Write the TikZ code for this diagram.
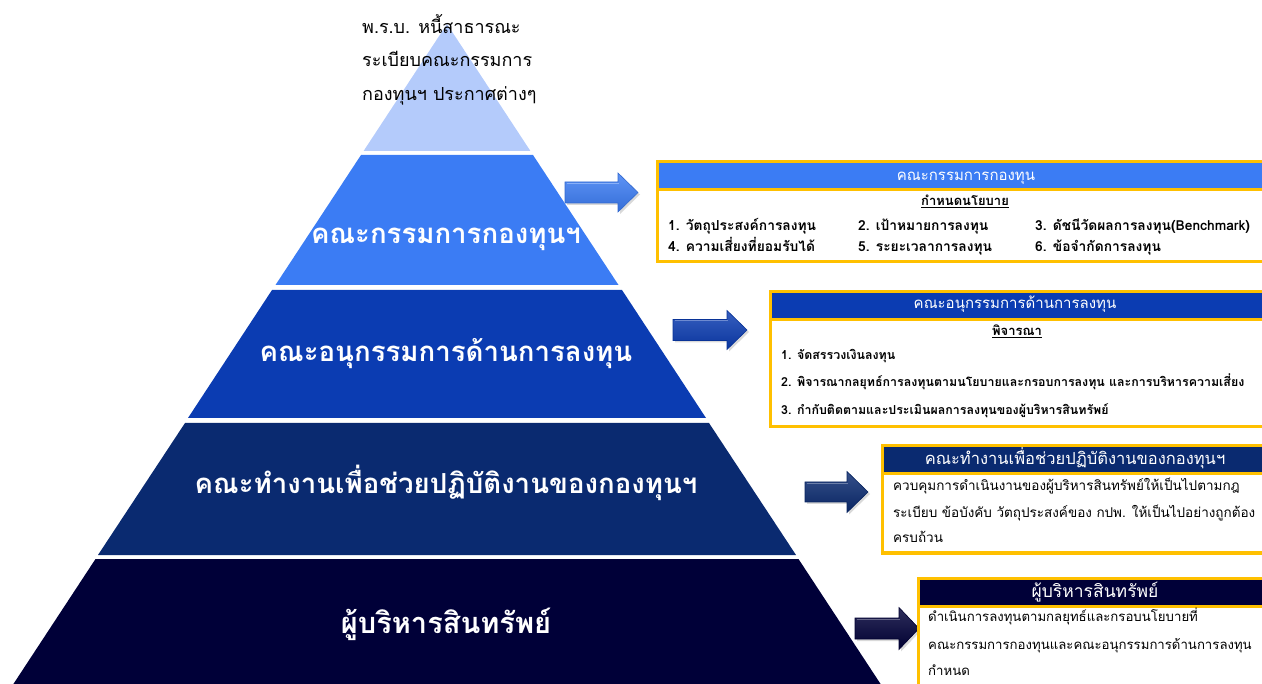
\documentclass[tikz,border=0pt]{standalone}
\usepackage{fontspec}
\setmainfont{Loma}[Script=Thai]
\definecolor{bandA}{HTML}{B4CBFB}
\definecolor{bandB}{HTML}{3B7CF4}
\definecolor{bandC}{HTML}{0B3CB2}
\definecolor{bandD}{HTML}{0A2A70}
\definecolor{bandE}{HTML}{000038}
\definecolor{gold}{HTML}{FFC000}
\tikzset{
  bandtext/.style={text=white, font=\fontsize{27.6}{33}\selectfont\bfseries, anchor=base, inner sep=0pt},
  toptext/.style={text=black, font=\fontsize{18}{22}\selectfont, anchor=base west, inner sep=0pt},
  hdrtext/.style={text=white, font=\fontsize{15}{18}\selectfont, anchor=base, inner sep=0pt},
  subtext/.style={text=black, font=\fontsize{13}{16}\selectfont\bfseries, anchor=base, inner sep=0pt},
  itemtext/.style={text=black, font=\fontsize{13.8}{16}\selectfont\bfseries, anchor=base west, inner sep=0pt},
  bodytext/.style={text=black, font=\fontsize{13.5}{16}\selectfont, anchor=base west, inner sep=0pt},
  boxframe/.style={draw=gold, line width=3pt},
}
\newcommand\blockarr[8]{%
  \coordinate (#1) at (#2,-#5);
  \fill[black, opacity=0.15] (#2+2,-#5-#6-2) -- (#3+2,-#5-#6-2) -- (#3+2,-#5-#7-2) -- (#4+2,-#5-2) -- (#3+2,-#5+#7-2) -- (#3+2,-#5+#6-2) -- (#2+2,-#5+#6-2) -- cycle;
  \shade[top color=#8!82!white, middle color=#8, bottom color=#8!88!black, draw=#8!85!black, line width=0.6pt]
    (#2,-#5-#6) -- (#3,-#5-#6) -- (#3,-#5-#7) -- (#4,-#5) -- (#3,-#5+#7) -- (#3,-#5+#6) -- (#2,-#5+#6) -- cycle;
  \draw[#8!60!white, line width=1pt] (#2+1.5,-#5+#6-1.5) -- (#3+1,-#5+#6-1.5);
}
\begin{document}
\begin{tikzpicture}[x=1pt,y=1pt]
\useasboundingbox (0,0) rectangle (1262,-684);
\clip (0,0) rectangle (1262,-684);
% pyramid
\fill[bandA] (447,-24) -- (530.4,-151) -- (363.6,-151) -- cycle;
\fill[bandB] (361,-155) -- (533,-155) -- (618.5,-285) -- (275.5,-285) -- cycle;
\fill[bandC] (272,-290) -- (622,-290) -- (706,-418) -- (188,-418) -- cycle;
\fill[bandD] (185,-423) -- (709,-423) -- (796,-555) -- (98,-555) -- cycle;
\fill[bandE] (95.5,-559) -- (798.5,-559) -- (880.6,-684) -- (13.4,-684) -- cycle;

\node[toptext] (t1) at (362,-34) {พ.ร.บ. หนี้สาธารณะ};
\node[toptext] (t2) at (362,-67) {ระเบียบคณะกรรมการ};
\node[toptext] (t3) at (362,-101) {กองทุนฯ ประกาศต่างๆ};

\node[bandtext] (b2) at (446,-244) {คณะกรรมการกองทุนฯ};
\node[bandtext] (b3) at (446,-362) {คณะอนุกรรมการด้านการลงทุน};
\node[bandtext] (b4) at (446,-494) {คณะทำงานเพื่อช่วยปฏิบัติงานของกองทุนฯ};
\node[bandtext, font=\fontsize{29}{34}\selectfont\bfseries] (b5) at (446,-633) {ผู้บริหารสินทรัพย์};

% arrows
\blockarr{a1}{565}{618}{638}{192.5}{10.5}{19.5}{bandB}
\blockarr{a2}{673}{727}{747}{330}{10.5}{19.5}{bandC}
\blockarr{a3}{805}{847}{868}{492}{10}{20.5}{bandD}
\blockarr{a4}{855}{899}{919}{628.5}{10.5}{21}{bandE}

% box 1
\fill[white] (657,-161.5) rectangle (1290,-262);
\fill[bandB] (657,-161.5) rectangle (1290,-189.5);
\draw[boxframe] (657,-161.5) rectangle (1290,-262);
\draw[gold, line width=2.5pt] (657,-189.5) -- (1290,-189.5);
\node[hdrtext] (h1) at (966,-181) {คณะกรรมการกองทุน};
\node[subtext] (s1) at (965,-206) {\underline{กำหนดนโยบาย}};
\node[itemtext] (i11) at (668,-231) {1. วัตถุประสงค์การลงทุน};
\node[itemtext] (i12) at (858,-231) {2. เป้าหมายการลงทุน};
\node[itemtext] (i13) at (1035,-231) {3. ดัชนีวัดผลการลงทุน(Benchmark)};
\node[itemtext] (i14) at (668,-252) {4. ความเสี่ยงที่ยอมรับได้};
\node[itemtext] (i15) at (858,-252) {5. ระยะเวลาการลงทุน};
\node[itemtext] (i16) at (1035,-252) {6. ข้อจำกัดการลงทุน};

% box 2
\fill[white] (770,-291.5) rectangle (1290,-427);
\fill[bandC] (770,-291.5) rectangle (1290,-319.5);
\draw[boxframe] (770,-291.5) rectangle (1290,-427);
\draw[gold, line width=2.5pt] (770,-319.5) -- (1290,-319.5);
\node[hdrtext] (h2) at (1015,-309) {คณะอนุกรรมการด้านการลงทุน};
\node[subtext] (s2) at (1017,-336) {\underline{พิจารณา}};
\node[itemtext, font=\fontsize{12.4}{16}\selectfont\bfseries] (i21) at (781,-360) {1. จัดสรรวงเงินลงทุน};
\node[itemtext, font=\fontsize{12.4}{16}\selectfont\bfseries] (i22) at (781,-387) {2. พิจารณากลยุทธ์การลงทุนตามนโยบายและกรอบการลงทุน และการบริหารความเสี่ยง};
\node[itemtext, font=\fontsize{12.4}{16}\selectfont\bfseries] (i23) at (781,-415) {3. กำกับติดตามและประเมินผลการลงทุนของผู้บริหารสินทรัพย์};

% box 3
\fill[white] (882,-445.5) rectangle (1290,-553);
\fill[bandD] (882,-445.5) rectangle (1290,-473.5);
\draw[boxframe] (882,-445.5) rectangle (1290,-553);
\draw[gold, line width=2.5pt] (882,-473.5) -- (1290,-473.5);
\node[hdrtext, font=\fontsize{16.5}{19}\selectfont] (h3) at (1075,-465) {คณะทำงานเพื่อช่วยปฏิบัติงานของกองทุนฯ};
\node[bodytext] (l31) at (893,-491) {ควบคุมการดำเนินงานของผู้บริหารสินทรัพย์ให้เป็นไปตามกฎ};
\node[bodytext] (l32) at (893,-518) {ระเบียบ ข้อบังคับ วัตถุประสงค์ของ กปพ. ให้เป็นไปอย่างถูกต้อง};
\node[bodytext] (l33) at (893,-543) {ครบถ้วน};

% box 4
\fill[white] (918,-578.5) rectangle (1290,-700);
\fill[bandE] (918,-578.5) rectangle (1290,-606.5);
\draw[boxframe] (918,-578.5) rectangle (1290,-700);
\draw[gold, line width=2.5pt] (918,-606.5) -- (1290,-606.5);
\node[hdrtext, font=\fontsize{17.5}{20}\selectfont] (h4) at (1095,-597) {ผู้บริหารสินทรัพย์};
\node[bodytext, font=\fontsize{13.2}{16}\selectfont] (l41) at (928,-621) {ดำเนินการลงทุนตามกลยุทธ์และกรอบนโยบายที่};
\node[bodytext, font=\fontsize{13.2}{16}\selectfont] (l42) at (928,-649) {คณะกรรมการกองทุนและคณะอนุกรรมการด้านการลงทุน};
\node[bodytext, font=\fontsize{13.2}{16}\selectfont] (l43) at (928,-675) {กำหนด};
\end{tikzpicture}
\end{document}
